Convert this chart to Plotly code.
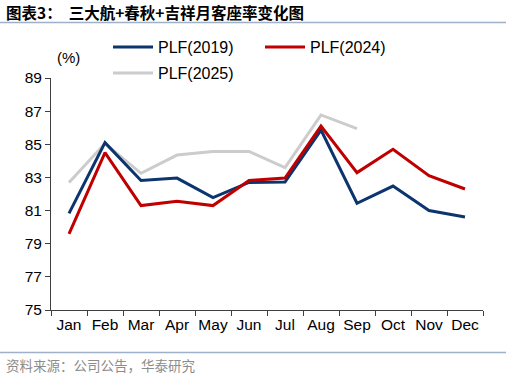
import plotly.graph_objects as go

months = ["Jan", "Feb", "Mar", "Apr", "May", "Jun", "Jul", "Aug", "Sep", "Oct", "Nov", "Dec"]
plf_2019 = [80.83, 85.1, 82.82, 82.96, 81.78, 82.7, 82.72, 85.86, 81.44, 82.48, 81.0, 80.61]
plf_2024 = [79.59, 84.5, 81.3, 81.56, 81.3, 82.82, 82.96, 86.1, 83.29, 84.7, 83.1, 82.3]
plf_2025 = [82.7, 85.05, 83.25, 84.35, 84.57, 84.57, 83.59, 86.77, 85.94]
y_ticks = [75, 77, 79, 81, 83, 85, 87, 89]

FONT = "Liberation Sans, Arial, sans-serif"
CJK = "Noto Sans CJK SC"

H_PLOT = 232.0
W_PLOT = 432.0
def py(pix):
    return (310 - pix) / H_PLOT
def px(pix):
    return (pix - 51) / W_PLOT

fig = go.Figure()
fig.add_trace(go.Scatter(x=months[:len(plf_2025)], y=plf_2025, mode="lines", name="PLF(2025)",
                         line=dict(color="#cccccc", width=3), legend="legend3"))
fig.add_trace(go.Scatter(x=months, y=plf_2019, mode="lines", name="PLF(2019)",
                         line=dict(color="#0c3570", width=3), legend="legend"))
fig.add_trace(go.Scatter(x=months, y=plf_2024, mode="lines", name="PLF(2024)",
                         line=dict(color="#c00000", width=3), legend="legend2"))

def leg(x, y):
    return dict(orientation="h", x=px(x), y=py(y), xanchor="left", yanchor="middle",
                font=dict(family=FONT, size=16, color="#000000"), itemwidth=40,
                bgcolor="rgba(0,0,0,0)", borderwidth=0)

fig.update_layout(
    width=506, height=377,
    margin=dict(l=51, r=23, t=78, b=67, autoexpand=False),
    paper_bgcolor="white", plot_bgcolor="white",
    font=dict(family=FONT, size=15, color="#000000"),
    showlegend=True,
    legend=leg(108, 47),
    legend2=leg(260, 47),
    legend3=leg(108, 73),
    xaxis=dict(type="category", range=[-0.5, 11.5], showgrid=False, zeroline=False,
               showline=True, linecolor="#404040", linewidth=1, tickangle=0,
               ticks="outside", tickson="boundaries", ticklen=5, tickcolor="#404040",
               tickfont=dict(family=FONT, size=15.5), fixedrange=True, automargin=False),
    yaxis=dict(range=[75, 89], tickvals=y_ticks, showgrid=False, zeroline=False,
               showline=True, linecolor="#404040", linewidth=1,
               ticks="outside", ticklen=5, tickcolor="#404040",
               tickfont=dict(family=FONT, size=15.5), fixedrange=True, automargin=False),
    annotations=[
        dict(text="<b>图表3：  三大航+春秋+吉祥月客座率变化图</b>", xref="paper", yref="paper",
             x=px(4), y=py(12), xanchor="left", yanchor="middle", showarrow=False,
             font=dict(family=CJK, size=15.5, color="#000000")),
        dict(text="(%)", xref="paper", yref="paper", x=px(68), y=py(57),
             xanchor="center", yanchor="middle", showarrow=False,
             font=dict(family=FONT, size=15)),
        dict(text="资料来源：公司公告，华泰研究", xref="paper", yref="paper",
             x=px(4), y=py(365), xanchor="left", yanchor="middle", showarrow=False,
             font=dict(family=CJK, size=13.5, color="#8c8c8c")),
    ],
    shapes=[
        dict(type="line", xref="paper", yref="paper", x0=px(0), x1=px(506),
             y0=py(22.5), y1=py(22.5), line=dict(color="#9fb1c8", width=1.5)),
        dict(type="line", xref="paper", yref="paper", x0=px(0), x1=px(506),
             y0=py(352.5), y1=py(352.5), line=dict(color="#9fb1c8", width=1.5)),
    ],
)

fig.write_html("out.html", config={"displayModeBar": False},
               post_script="document.body.style.margin='0';document.body.style.padding='0';document.body.style.overflow='hidden';")
